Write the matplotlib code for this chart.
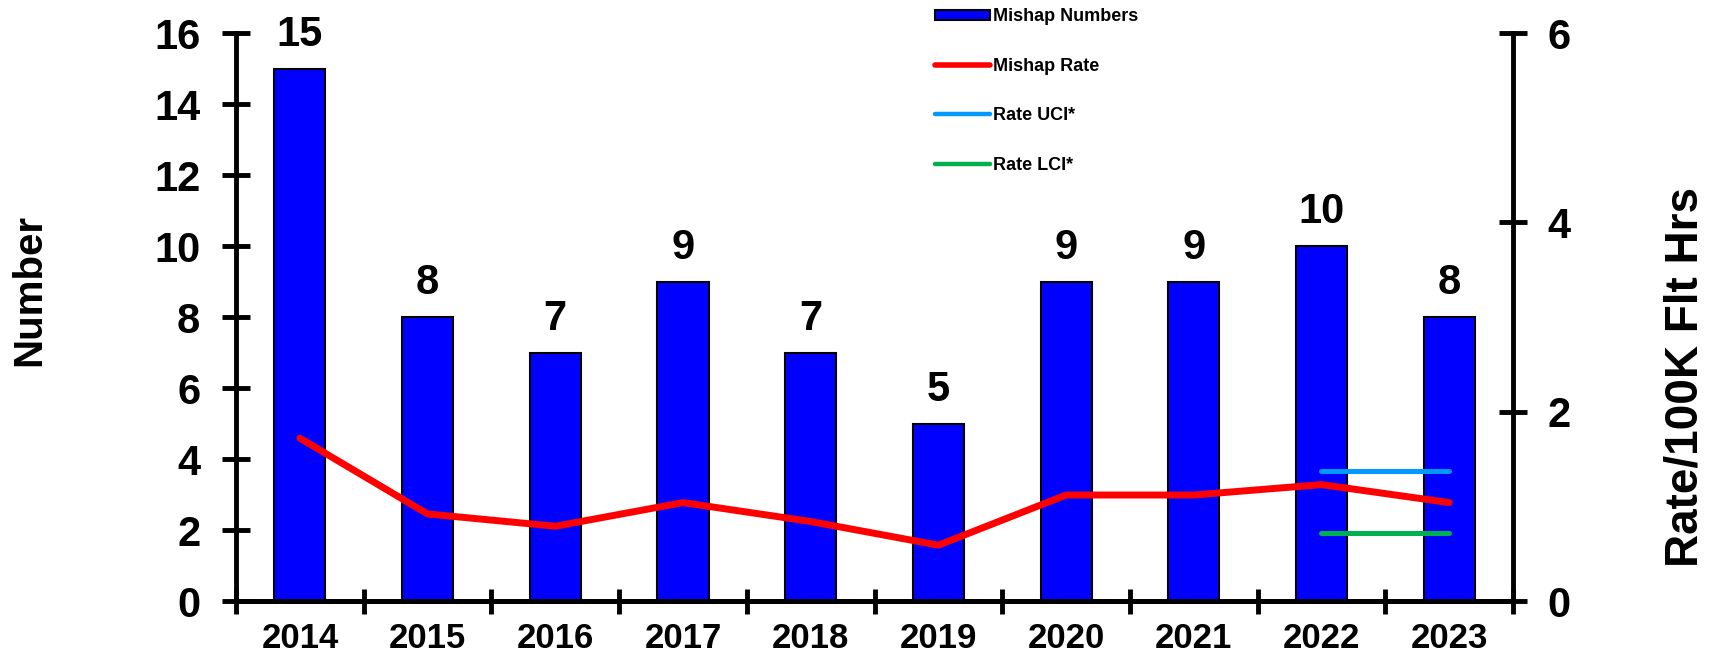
import numpy as np
import matplotlib
matplotlib.use("Agg")
import matplotlib.pyplot as plt
from matplotlib.patches import Patch
from matplotlib.lines import Line2D

plt.rcParams['font.family'] = ['Liberation Sans', 'DejaVu Sans']
plt.rcParams['font.weight'] = 'bold'

years = ['2014', '2015', '2016', '2017', '2018', '2019', '2020', '2021', '2022', '2023']
mishaps = [15, 8, 7, 9, 7, 5, 9, 9, 10, 8]
rate = [1.72, 0.92, 0.79, 1.04, 0.84, 0.59, 1.12, 1.12, 1.23, 1.04]
uci_x = [8, 9]
uci = [1.37, 1.37]
lci_x = [8, 9]
lci = [0.72, 0.72]

x = np.arange(len(years))

fig = plt.figure(figsize=(17.18, 6.58), dpi=100)
ax = fig.add_axes([0.1374, 0.0866, 0.7433, 0.863])
ax2 = ax.twinx()

ax.bar(x, mishaps, width=0.40, color='#0000FF', edgecolor='black', linewidth=1.5, zorder=2)
for xi, v in zip(x, mishaps):
    ax.annotate(str(v), (xi, v), xytext=(0, 10), textcoords='offset points',
                ha='center', va='bottom', fontsize=30, fontweight='bold')

ax.set_xlim(-0.5, len(years) - 0.5)
ax.set_ylim(0, 16)
ax.set_yticks(np.arange(0, 17, 2))
ax.set_xticks(x)
ax.set_xticklabels(years)
ax.set_xticks(np.arange(-0.5, len(years), 1), minor=True)
ax.tick_params(axis='x', which='major', length=0, labelsize=25, pad=15)
ax.tick_params(axis='x', which='minor', direction='inout', length=18, width=3.5)
ax.tick_params(axis='y', direction='inout', length=19.5, width=3.5, labelsize=30, pad=16)

ax2.plot(x, rate, color='#FF0000', linewidth=5, solid_capstyle='round', solid_joinstyle='round', zorder=3)
ax2.plot(uci_x, uci, color='#0099FF', linewidth=3.6, solid_capstyle='round')
ax2.plot(lci_x, lci, color='#00B050', linewidth=3.6, solid_capstyle='round')
ax2.set_ylim(0, 6)
ax2.set_yticks([0, 2, 4, 6])
ax2.tick_params(axis='y', direction='inout', length=19.5, width=3.5, labelsize=30, pad=15)

fig.text(0.0169, 0.559, 'Number', rotation=90, ha='center', va='center',
         fontsize=29, fontweight='bold')
fig.text(0.981, 0.427, 'Rate/100K Flt Hrs', rotation=90, ha='center', va='center',
         fontsize=33, fontweight='bold')

for a in (ax, ax2):
    a.spines['top'].set_visible(False)
    for s in ('left', 'right', 'bottom'):
        a.spines[s].set_linewidth(3.5)
ax2.spines['left'].set_visible(False)
ax.spines['right'].set_visible(False)

handles = [
    Patch(facecolor='#0000FF', edgecolor='black', linewidth=1.5),
    Line2D([], [], color='#FF0000', linewidth=4, solid_capstyle='round'),
    Line2D([], [], color='#0099FF', linewidth=3.2, solid_capstyle='round'),
    Line2D([], [], color='#00B050', linewidth=3.2, solid_capstyle='round'),
]
labels = ['Mishap Numbers', 'Mishap Rate', 'Rate UCI*', 'Rate LCI*']
leg = fig.legend(handles, labels, loc='upper left', bbox_to_anchor=(0.535, 1.012),
                 frameon=False, prop={'size': 13, 'weight': 'bold'},
                 handlelength=3.0, handleheight=0.55, handletextpad=0.18, labelspacing=1.8)

fig.savefig('out.png', dpi=100)
